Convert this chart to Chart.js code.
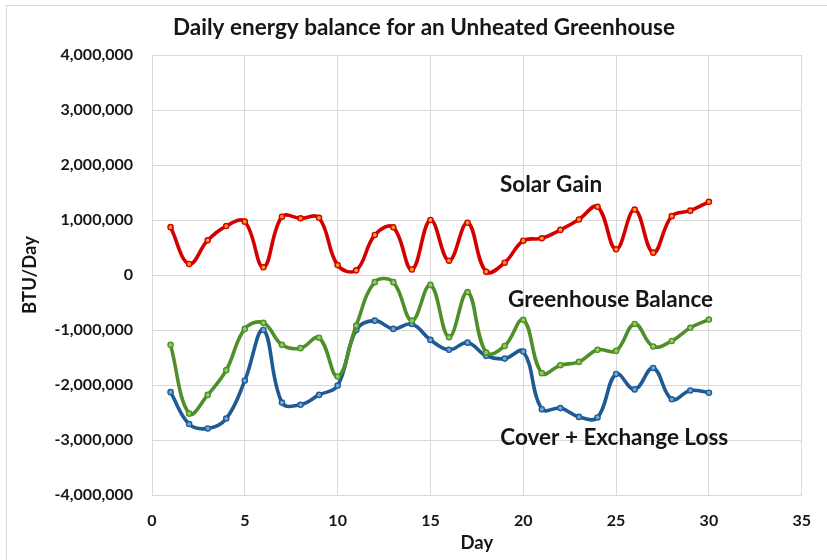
<!DOCTYPE html>
<html>
<head>
<meta charset="utf-8">
<title>Daily energy balance for an Unheated Greenhouse</title>
<script src="https://cdn.jsdelivr.net/npm/chart.js@4"></script>
<style>
  html, body { margin: 0; padding: 0; background: #ffffff; overflow: hidden; }
  #chart-container { position: relative; width: 827px; height: 560px; }
</style>
</head>
<body>
<div id="chart-container">
  <canvas id="energy-chart"></canvas>
</div>
<script>
// Day of month for every reading.
const days = [1, 2, 3, 4, 5, 6, 7, 8, 9, 10, 11, 12, 13, 14, 15,
              16, 17, 18, 19, 20, 21, 22, 23, 24, 25, 26, 27, 28, 29, 30];

// BTU per day for each series.
const solarGain = [870000, 200000, 630000, 890000, 970000, 140000, 1060000, 1030000, 1040000, 180000,
                   85000, 727000, 867000, 100000, 1000000, 260000, 950000, 60000, 224000, 624000,
                   667000, 820000, 1010000, 1240000, 467000, 1190000, 406000, 1070000, 1170000, 1330000];

const greenhouseBalance = [-1270000, -2520000, -2180000, -1730000, -980000, -870000, -1270000, -1330000, -1140000, -1845000,
                           -920000, -130000, -130000, -830000, -180000, -1130000, -310000, -1410000, -1290000, -815000,
                           -1785000, -1640000, -1580000, -1360000, -1380000, -890000, -1300000, -1200000, -960000, -810000];

const coverExchangeLoss = [-2130000, -2710000, -2790000, -2610000, -1920000, -1000000, -2320000, -2360000, -2180000, -2010000,
                           -1000000, -830000, -980000, -890000, -1180000, -1360000, -1230000, -1470000, -1520000, -1390000,
                           -2440000, -2420000, -2580000, -2590000, -1800000, -2080000, -1690000, -2260000, -2100000, -2140000];

const xTicks = [0, 5, 10, 15, 20, 25, 30, 35];
const yTicks = [-4000000, -3000000, -2000000, -1000000, 0, 1000000, 2000000, 3000000, 4000000];

const FONT = 'Lato, "Open Sans", sans-serif';
const TEXT = '#161616';

function toPoints(values) {
  return values.map((v, i) => ({ x: days[i], y: v }));
}

function seriesStyle(line, fill) {
  return {
    borderColor: line,
    backgroundColor: fill,
    borderWidth: 3.6,
    pointRadius: 2.6,
    pointBorderWidth: 1.4,
    pointBorderColor: line,
    pointBackgroundColor: fill,
    tension: 0.4,
    fill: false
  };
}

// Title, outer frame and the labels written next to each curve.
const decorations = {
  id: 'decorations',
  afterDraw(chart) {
    const ctx = chart.ctx;
    const xs = chart.scales.x;
    const ys = chart.scales.y;
    ctx.save();

    ctx.strokeStyle = '#d9d9d9';
    ctx.lineWidth = 1;
    ctx.strokeRect(6.5, 5.5, 1000, 1000);

    ctx.fillStyle = TEXT;
    ctx.textAlign = 'center';
    ctx.textBaseline = 'middle';
    ctx.font = 'bold 22.5px ' + FONT;
    ctx.fillText('Daily energy balance for an Unheated Greenhouse', 424, 28);

    ctx.font = 'bold 22.5px ' + FONT;
    ctx.fillText('Solar Gain', xs.getPixelForValue(21.5), ys.getPixelForValue(1640000));
    ctx.fillText('Greenhouse Balance', xs.getPixelForValue(24.7), ys.getPixelForValue(-450000));
    ctx.fillText('Cover + Exchange Loss', xs.getPixelForValue(24.9), ys.getPixelForValue(-2950000));
    ctx.restore();
  }
};

new Chart(document.getElementById('energy-chart'), {
  type: 'line',
  data: {
    datasets: [
      Object.assign({ label: 'Solar Gain', data: toPoints(solarGain) }, seriesStyle('#d40000', '#ff9a1f')),
      Object.assign({ label: 'Greenhouse Balance', data: toPoints(greenhouseBalance) }, seriesStyle('#4f8f2a', '#8fcf5f')),
      Object.assign({ label: 'Cover + Exchange Loss', data: toPoints(coverExchangeLoss) }, seriesStyle('#1f5a92', '#6fa8dc'))
    ]
  },
  options: {
    responsive: true,
    maintainAspectRatio: false,
    animation: false,
    layout: { autoPadding: false, padding: { left: 0, right: 17, top: 55, bottom: 0 } },
    plugins: {
      legend: { display: false },
      title: { display: false },
      tooltip: { enabled: false }
    },
    scales: {
      x: {
        type: 'linear',
        min: 0,
        max: 35,
        afterBuildTicks: scale => { scale.ticks = xTicks.map(v => ({ value: v })); },
        afterFit: scale => { scale.height = 65; },
        grid: { color: '#d9d9d9', lineWidth: 1, drawTicks: false },
        border: { color: '#d9d9d9' },
        ticks: {
          padding: 16,
          color: TEXT,
          font: { family: FONT, size: 16, weight: 'bold' }
        },
        title: {
          display: true,
          text: 'Day',
          color: TEXT,
          padding: { top: 0, bottom: 6 },
          font: { family: FONT, size: 18.5, weight: 'bold' }
        }
      },
      y: {
        min: -4000000,
        max: 4000000,
        afterBuildTicks: scale => { scale.ticks = yTicks.map(v => ({ value: v })); },
        afterFit: scale => { scale.width = 152; },
        grid: { color: '#d9d9d9', lineWidth: 1, drawTicks: false },
        border: { color: '#d9d9d9' },
        ticks: {
          padding: 19,
          color: TEXT,
          font: { family: FONT, size: 16, weight: 'bold' },
          callback: v => v.toLocaleString('en-US')
        },
        title: {
          display: true,
          text: 'BTU/Day',
          color: TEXT,
          padding: { top: 19, bottom: 0 },
          font: { family: FONT, size: 18.5, weight: 'bold' }
        }
      }
    }
  },
  plugins: [decorations]
});
</script>
</body>
</html>
